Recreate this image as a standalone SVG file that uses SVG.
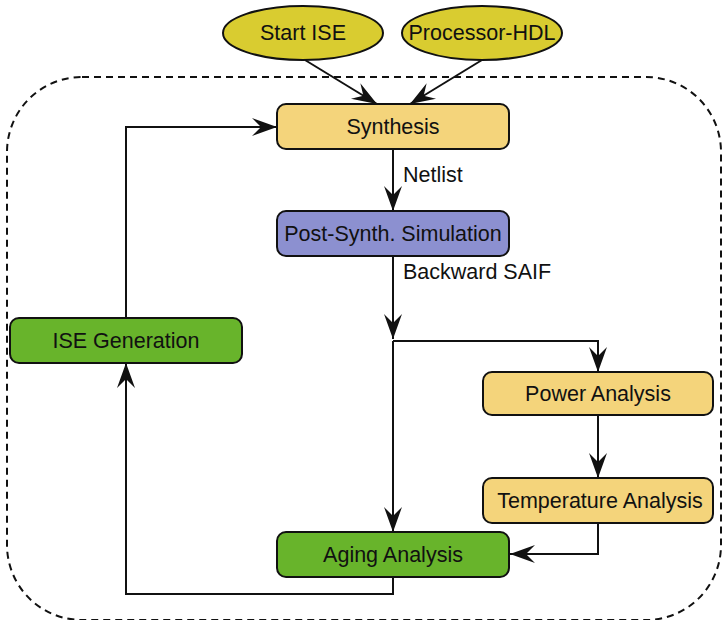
<svg xmlns="http://www.w3.org/2000/svg" width="722" height="620" viewBox="0 0 722 620">
<style>
text{font-family:"Liberation Sans",Arial,sans-serif;font-size:21.5px;fill:#111;}
.n{text-anchor:middle;dominant-baseline:central;}
.box{stroke:#111;stroke-width:2;}
.or{fill:#f4d47b;}
.pu{fill:#8c90d0;}
.gr{fill:#68b42b;}
.el{fill:#d9cc30;stroke:#111;stroke-width:2;}
.ca{fill:none;stroke:#111;stroke-width:2;marker-end:url(#ah);}
</style>
<defs>
<marker id="ah" markerUnits="userSpaceOnUse" viewBox="-28 -12 30 24" markerWidth="30" markerHeight="24" refX="0" refY="0" orient="auto">
<path d="M0,0 L-25,-9 L-16,0 L-25,9 Z" fill="#111"/>
</marker>
</defs>
<rect x="7" y="77" width="714" height="543" rx="75" ry="75" fill="none" stroke="#111" stroke-width="2" stroke-dasharray="7,5"/>
<g id="connectors">
<path class="ca" d="M305,60 L377,104"/>
<path class="ca" d="M482,60 L410,104"/>
<path class="ca" d="M393,149 L393,211"/>
<path class="ca" d="M393,256 L393,339"/>
<path class="ca" d="M393,341 L598,341 L598,372"/>
<path class="ca" d="M393,341 L393,532"/>
<path class="ca" d="M598,415 L598,478"/>
<path class="ca" d="M598,523 L598,554 L510,554"/>
<path class="ca" d="M393,577 L393,594 L126,594 L126,363"/>
<path class="ca" d="M126,318 L126,127 L277,127"/>
<text x="403" y="175" dominant-baseline="central">Netlist</text>
<text x="403" y="272" dominant-baseline="central">Backward SAIF</text>
</g>
<g id="start-ise">
<ellipse class="el" cx="303" cy="33" rx="80" ry="27"/>
<text class="n" x="303" y="33">Start ISE</text>
</g>
<g id="processor-hdl">
<ellipse class="el" cx="482" cy="33" rx="80" ry="27"/>
<text class="n" x="482" y="33">Processor-HDL</text>
</g>
<g id="synthesis">
<rect class="box or" x="277" y="104" width="232" height="45" rx="9"/>
<text class="n" x="393" y="127">Synthesis</text>
</g>
<g id="post-synth">
<rect class="box pu" x="277" y="211" width="232" height="45" rx="9"/>
<text class="n" x="393" y="234">Post-Synth. Simulation</text>
</g>
<g id="power">
<rect class="box or" x="483" y="372" width="230" height="43" rx="9"/>
<text class="n" x="598" y="394">Power Analysis</text>
</g>
<g id="temperature">
<rect class="box or" x="483" y="478" width="230" height="45" rx="9"/>
<text class="n" x="600" y="501">Temperature Analysis</text>
</g>
<g id="aging">
<rect class="box gr" x="277" y="532" width="232" height="45" rx="9"/>
<text class="n" x="393" y="555">Aging Analysis</text>
</g>
<g id="ise-generation">
<rect class="box gr" x="10" y="318" width="232" height="45" rx="9"/>
<text class="n" x="126" y="341">ISE Generation</text>
</g>
</svg>
